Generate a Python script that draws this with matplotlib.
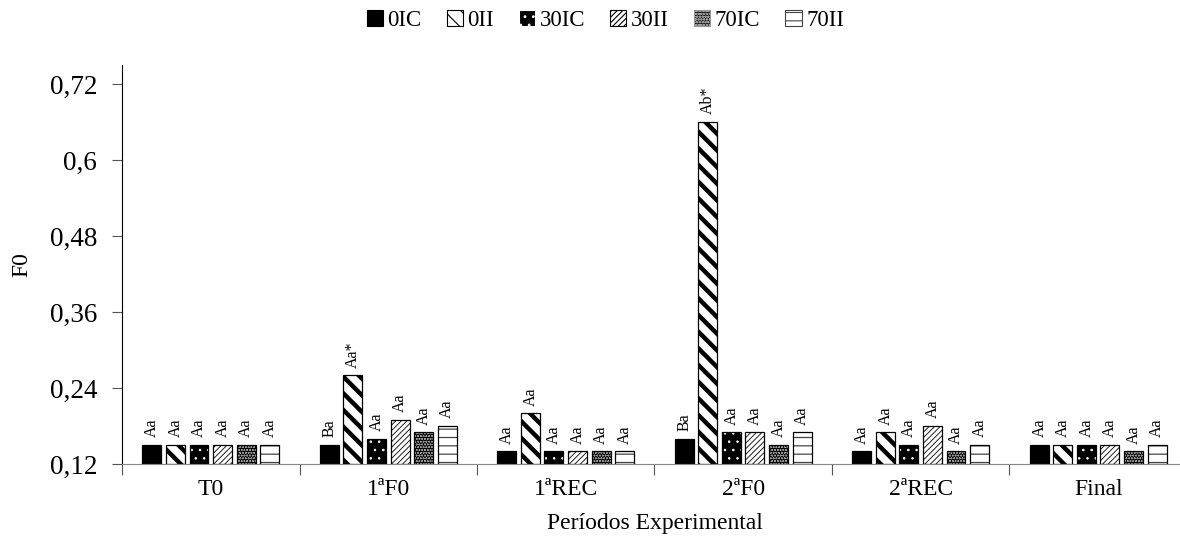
import numpy as np
import matplotlib
matplotlib.use("Agg")
import matplotlib.pyplot as plt
from matplotlib.patches import Patch

plt.rcParams['font.family'] = ['Liberation Serif', 'DejaVu Serif']
plt.rcParams['hatch.linewidth'] = 0.8

periodos = ["T0", "1ªF0", "1ªREC", "2ªF0", "2ªREC", "Final"]
tratamentos = ["0IC", "0II", "30IC", "30II", "70IC", "70II"]

# F0 por tratamento, um valor por periodo
f0_0IC = [0.15, 0.15, 0.14, 0.16, 0.14, 0.15]
f0_0II = [0.15, 0.26, 0.20, 0.66, 0.17, 0.15]
f0_30IC = [0.15, 0.16, 0.14, 0.17, 0.15, 0.15]
f0_30II = [0.15, 0.19, 0.14, 0.17, 0.18, 0.15]
f0_70IC = [0.15, 0.17, 0.14, 0.15, 0.14, 0.14]
f0_70II = [0.15, 0.18, 0.14, 0.17, 0.15, 0.15]

# letras de significancia
let_0IC = ["Aa", "Ba", "Aa", "Ba", "Aa", "Aa"]
let_0II = ["Aa", "Aa*", "Aa", "Ab*", "Aa", "Aa"]
let_30IC = ["Aa"] * 6
let_30II = ["Aa"] * 6
let_70IC = ["Aa"] * 6
let_70II = ["Aa"] * 6

valores = [f0_0IC, f0_0II, f0_30IC, f0_30II, f0_70IC, f0_70II]
letras = [let_0IC, let_0II, let_30IC, let_30II, let_70IC, let_70II]

# face, hatch colour, hatch pattern, hatch linewidth
estilos = [
    ("black", "black", "", 0.8),
    ("white", "black", "\\\\", 3.2),
    ("black", "white", "..", 0.6),
    ("white", "black", "//////", 0.6),
    ("black", "#999999", "oooooo", 0.5),
    ("white", "#444444", "--", 0.9),
]

fig = plt.figure(figsize=(11.8, 5.42), dpi=100)
ax = fig.add_axes([0.1034, 0.1439, 0.9025, 0.7361])

x = np.arange(len(periodos))
passo = 0.1325
largura = 0.107
base = 0.12

for j, (vals, lets, est) in enumerate(zip(valores, letras, estilos)):
    face, hcor, hatch, hlw = est
    pos = x + (j - 2.5) * passo
    alturas = np.array(vals) - base
    bars = ax.bar(pos, alturas, largura, bottom=base, color=face,
                  edgecolor=hcor, hatch=hatch, linewidth=0, zorder=2)
    for b in bars:
        if hasattr(b, "set_hatch_linewidth"):
            b.set_hatch_linewidth(hlw)
    ax.bar(pos, alturas, largura, bottom=base, fill=False,
           edgecolor="black", linewidth=0.9, zorder=3)
    for p, v, t in zip(pos, vals, lets):
        ax.text(p, v + 0.012, t, rotation=90, ha="center", va="bottom",
                fontsize=11.5)

ax.set_xlim(-0.5, 5.5)
ax.set_ylim(0.12, 0.75)
ax.set_yticks([0.12, 0.24, 0.36, 0.48, 0.6, 0.72])
ax.set_yticklabels(["0,12", "0,24", "0,36", "0,48", "0,6", "0,72"], fontsize=19.5)

ax.set_xticks(np.arange(-0.5, 6, 1.0))
ax.set_xticklabels([])
ax.set_xticks(x, minor=True)
ax.set_xticklabels(periodos, minor=True, fontsize=17)
ax.tick_params(axis="x", which="minor", length=0, pad=11)
ax.tick_params(axis="x", which="major", length=8, color="#555555")
ax.tick_params(axis="y", length=7, color="#555555", pad=11)

ax.spines["top"].set_visible(False)
ax.spines["right"].set_visible(False)
ax.spines["bottom"].set_color("#888888")
ax.spines["left"].set_color("black")

ax.set_ylabel("F0", fontsize=17, labelpad=12)
ax.set_xlabel("Períodos Experimental", fontsize=17, labelpad=9)

handles = []
for nome, est in zip(tratamentos, estilos):
    face, hcor, hatch, hlw = est
    h = Patch(facecolor=face, edgecolor=hcor, hatch=hatch,
              linewidth=0.8, label=nome)
    if hasattr(h, "set_hatch_linewidth"):
        h.set_hatch_linewidth(min(hlw, 1.5))
    handles.append(h)
fig.legend(handles=handles, loc="upper center", bbox_to_anchor=(0.513, 1.02),
           ncol=6, frameon=False, fontsize=16.5, handlelength=0.7,
           handleheight=0.7, handletextpad=0.2, columnspacing=1.1)

fig.savefig("out.png", dpi=100)
